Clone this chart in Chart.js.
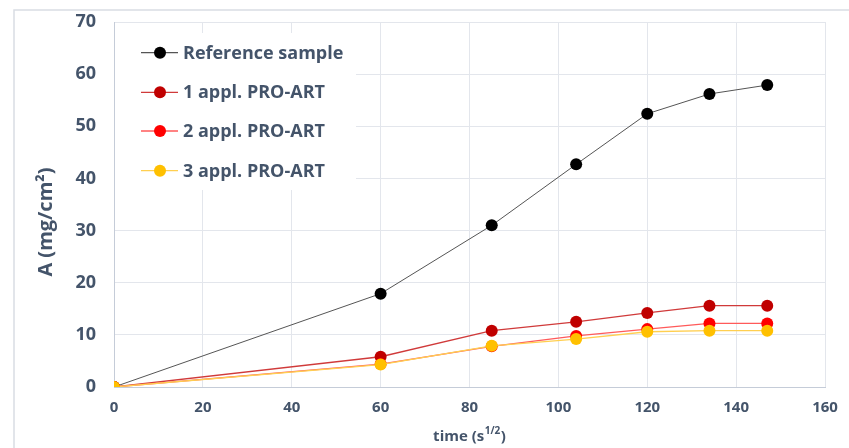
<!DOCTYPE html>
<html>
<head>
<meta charset="utf-8">
<script src="https://cdn.jsdelivr.net/npm/chart.js@4/dist/chart.umd.min.js"></script>
<style>
html,body{margin:0;padding:0;background:#fff;}
#wrap{position:relative;width:849px;height:448px;}
</style>
</head>
<body>
<div id="wrap"><canvas id="c" width="849" height="448"></canvas></div>
<script>
const timeValues = [0, 60, 85, 104, 120, 134, 147];
const referenceSample = [0, 17.9, 31.0, 42.7, 52.4, 56.2, 57.9];
const appl1 = [0, 5.8, 10.8, 12.5, 14.2, 15.6, 15.6];
const appl2 = [0, 4.4, 7.8, 9.8, 11.1, 12.2, 12.2];
const appl3 = [0, 4.3, 7.9, 9.2, 10.6, 10.8, 10.8];
const seriesNames = ['Reference sample', '1 appl. PRO-ART', '2 appl. PRO-ART', '3 appl. PRO-ART'];
const yTitle = 'A (mg/cm²)';
const xTitleMain = 'time (s';
const xTitleSup = '1/2';

const TXT = '#44546a';
const FONT = '"Open Sans", "Liberation Sans", sans-serif';

function pts(arr){ return timeValues.map((t,i)=>({x:t, y:arr[i]})); }

const styles = [
  {dot:'#000000', line:'#555555', w:1},
  {dot:'#c00000', line:'#d03a3a', w:1.3},
  {dot:'#ff0000', line:'#ff5a5a', w:1.3},
  {dot:'#ffc000', line:'#ffcf50', w:1.3}
];
const seriesData = [referenceSample, appl1, appl2, appl3];

const datasets = seriesData.map((arr,i)=>({
  label: seriesNames[i],
  data: pts(arr),
  showLine: true,
  borderColor: styles[i].line,
  borderWidth: styles[i].w,
  backgroundColor: styles[i].dot,
  pointBackgroundColor: styles[i].dot,
  pointBorderColor: styles[i].dot,
  pointRadius: 6,
  pointBorderWidth: 0,
  tension: 0,
  order: 3 - i
}));

const frame = {
  id:'frame',
  beforeDraw(chart){
    const ctx = chart.ctx;
    ctx.save();
    ctx.fillStyle='#fff';
    ctx.fillRect(0,0,chart.width,chart.height);
    ctx.strokeStyle='#d9dde4';
    ctx.lineWidth=1.5;
    ctx.strokeRect(14,10,900,500);
    ctx.restore();
  },
  afterDraw(chart){
    const ctx = chart.ctx;
    const a = chart.chartArea;
    ctx.save();
    // legend box
    ctx.fillStyle='#fff';
    ctx.fillRect(115,33,241,157);
    const rows=[52.7,92.3,131,170.7];
    rows.forEach((y,i)=>{
      ctx.strokeStyle=styles[i].line;
      ctx.lineWidth=1.3;
      ctx.beginPath(); ctx.moveTo(141,y); ctx.lineTo(178,y); ctx.stroke();
      ctx.fillStyle=styles[i].dot;
      ctx.beginPath(); ctx.arc(160,y,6,0,Math.PI*2); ctx.fill();
      ctx.fillStyle=TXT;
      ctx.font='bold 18px '+FONT;
      ctx.textBaseline='middle';
      ctx.textAlign='left';
      ctx.fillText(seriesNames[i],183,y+1);
    });
    // y title
    ctx.save();
    ctx.translate(46,222);
    ctx.rotate(-Math.PI/2);
    ctx.font='bold 20px '+FONT;
    ctx.fillStyle=TXT;
    ctx.textAlign='center';
    ctx.textBaseline='middle';
    ctx.fillText(yTitle,0,0);
    ctx.restore();
    // x title with superscript
    ctx.font='bold 15px '+FONT;
    const w1=ctx.measureText(xTitleMain).width;
    ctx.font='bold 10px '+FONT;
    const w2=ctx.measureText(xTitleSup).width;
    ctx.font='bold 15px '+FONT;
    const w3=ctx.measureText(')').width;
    const tot=w1+w2+w3+1;
    let x=(a.left+a.right)/2-tot/2;
    const y=437;
    ctx.fillStyle=TXT;
    ctx.textAlign='left';
    ctx.textBaseline='middle';
    ctx.fillText(xTitleMain,x,y);
    x+=w1;
    ctx.font='bold 10px '+FONT;
    ctx.fillText(xTitleSup,x+0.5,y-6);
    x+=w2+1;
    ctx.font='bold 15px '+FONT;
    ctx.fillText(')',x,y);
    ctx.restore();
  }
};

new Chart(document.getElementById('c'), {
  type:'scatter',
  data:{datasets},
  options:{
    responsive:false,
    animation:false,
    layout:{padding:{left:14,top:22,right:24,bottom:0}},
    plugins:{legend:{display:false},tooltip:{enabled:false}},
    scales:{
      x:{
        type:'linear', min:0, max:160,
        ticks:{stepSize:20, color:TXT, font:{family:FONT, size:15, weight:'bold'}, padding:12},
        grid:{color:'#e3e6ec', drawTicks:false, lineWidth:1},
        border:{color:'#c5ccd8', width:1},
        afterFit(s){ s.height=61; s.paddingLeft=0; s.paddingRight=0; }
      },
      y:{
        min:0, max:70,
        ticks:{stepSize:10, color:TXT, font:{family:FONT, size:18, weight:'bold'}, padding:18},
        grid:{color:'#e3e6ec', drawTicks:false, lineWidth:1},
        border:{color:'#c5ccd8', width:1},
        afterFit(s){ s.width=100; s.paddingTop=0; s.paddingBottom=0; }
      }
    }
  },
  plugins:[frame]
});
</script>
</body>
</html>
